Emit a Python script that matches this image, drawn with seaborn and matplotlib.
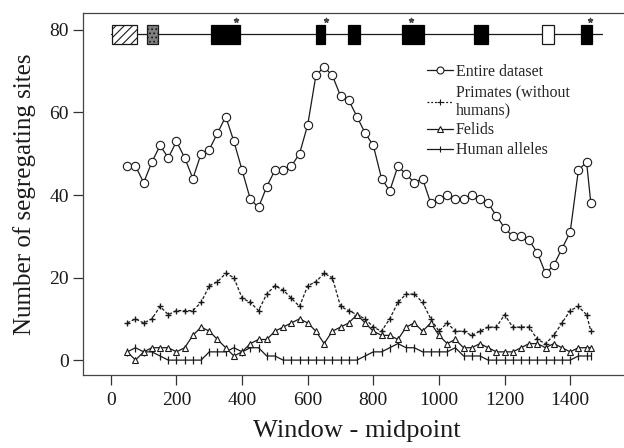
import matplotlib
matplotlib.use("Agg")
import matplotlib.pyplot as plt
import matplotlib.patches as mpatches
from matplotlib.lines import Line2D
import numpy as np
import pandas as pd
import seaborn as sns

# ---------------- data ----------------
window_mid = [50, 75, 100, 125, 150, 175, 200, 225, 250, 275, 300, 325, 350, 375,
              400, 425, 450, 475, 500, 525, 550, 575, 600, 625, 650, 675, 700, 725,
              750, 775, 800, 825, 850, 875, 900, 925, 950, 975, 1000, 1025, 1050,
              1075, 1100, 1125, 1150, 1175, 1200, 1225, 1250, 1275, 1300, 1325,
              1350, 1375, 1400, 1425, 1450, 1463]

entire = [47, 47, 43, 48, 52, 49, 53, 49, 44, 50, 51, 55, 59, 53, 46, 39, 37, 42,
          46, 46, 47, 50, 57, 69, 71, 69, 64, 63, 59, 55, 52, 44, 41, 47, 45, 43,
          44, 38, 39, 40, 39, 39, 40, 39, 38, 35, 32, 30, 30, 29, 26, 21, 23, 27,
          31, 46, 48, 38]

primates = [9, 10, 9, 10, 13, 11, 12, 12, 12, 14, 18, 19, 21, 20, 15, 14, 12, 16,
            18, 17, 15, 13, 18, 19, 21, 20, 13, 12, 11, 10, 8, 7, 10, 14, 16, 16,
            14, 10, 7, 9, 7, 7, 6, 7, 8, 8, 11, 8, 8, 8, 5, 4, 6, 9, 12, 13, 11, 7]

felids = [2, 0, 2, 3, 3, 3, 2, 3, 6, 8, 7, 5, 3, 1, 2, 4, 5, 5, 7, 8, 9, 10, 9, 7,
          4, 7, 8, 9, 11, 9, 7, 6, 6, 5, 8, 9, 7, 9, 6, 4, 5, 3, 3, 4, 3, 2, 2, 2,
          3, 4, 4, 3, 4, 3, 2, 3, 3, 3]

human = [2, 3, 2, 2, 1, 0, 0, 0, 0, 0, 2, 2, 2, 3, 2, 3, 3, 1, 1, 0, 0, 0, 0, 0,
         0, 0, 0, 0, 0, 1, 2, 2, 3, 4, 3, 3, 2, 2, 2, 2, 3, 1, 1, 1, 0, 0, 0, 0,
         0, 0, 0, 0, 0, 0, 0, 1, 1, 1]

series_labels = ["Entire dataset", "Primates (without\nhumans)", "Felids", "Human alleles"]

# gene structure diagram (start, end, kind)
exon_start = [2, 110, 306, 626, 723, 888, 1106, 1313, 1434]
exon_end = [80, 144, 395, 654, 760, 953, 1150, 1351, 1468]
exon_kind = ["hatched", "stipple", "black", "black", "black", "black", "black", "white", "black"]
gene_line = [0, 1498]
star_x = [380, 657, 916, 1461]

x_ticks = [0, 200, 400, 600, 800, 1000, 1200, 1400]
y_ticks = [0, 20, 40, 60, 80]

# ---------------- plot ----------------
sns.set_theme(style="ticks")
plt.rcParams["font.family"] = ["Liberation Serif", "DejaVu Serif"]
plt.rcParams["hatch.linewidth"] = 0.8

fig = plt.figure(figsize=(6.24, 4.48), dpi=100)
ax = fig.add_axes([0.133, 0.163, 0.878, 0.808])

ink = "#1a1a1a"
df = pd.DataFrame({"x": window_mid, "entire": entire, "primates": primates,
                   "felids": felids, "human": human})

sns.lineplot(data=df, x="x", y="primates", ax=ax, color=ink, lw=0.9,
             linestyle=(0, (2.5, 1.5)), marker="+", markersize=4.5,
             markeredgecolor=ink, markeredgewidth=1.0, errorbar=None, sort=False)
sns.lineplot(data=df, x="x", y="human", ax=ax, color=ink, lw=0.9,
             marker="|", markersize=6, markeredgecolor=ink,
             markeredgewidth=0.9, errorbar=None, sort=False)
sns.lineplot(data=df, x="x", y="felids", ax=ax, color=ink, lw=0.9,
             marker="^", markersize=5, markerfacecolor="white",
             markeredgecolor=ink, markeredgewidth=0.8, errorbar=None, sort=False)
sns.lineplot(data=df, x="x", y="entire", ax=ax, color=ink, lw=0.9,
             marker="o", markersize=6, markerfacecolor="white",
             markeredgecolor=ink, markeredgewidth=0.8, errorbar=None, sort=False)

# gene diagram
line_y = 78.9
box_lo, box_hi = 76.6, 81.2
ax.plot(gene_line, [line_y, line_y], color=ink, lw=0.9, zorder=3)
for s, e, k in zip(exon_start, exon_end, exon_kind):
    if k == "hatched":
        p = mpatches.Rectangle((s, box_lo), e - s, box_hi - box_lo, facecolor="white",
                               edgecolor=ink, hatch="////", lw=0.9, zorder=4)
    elif k == "stipple":
        p = mpatches.Rectangle((s, box_lo), e - s, box_hi - box_lo, facecolor="#808080",
                               edgecolor=ink, hatch="....", lw=0.9, zorder=4)
    elif k == "white":
        p = mpatches.Rectangle((s, box_lo), e - s, box_hi - box_lo, facecolor="white",
                               edgecolor=ink, lw=0.9, zorder=4)
    else:
        p = mpatches.Rectangle((s, box_lo), e - s, box_hi - box_lo, facecolor="black",
                               edgecolor="black", lw=0.9, zorder=4)
    ax.add_patch(p)
ax.scatter(star_x, [82.4] * len(star_x), marker="*", s=10, color="#444", zorder=5)

ax.set_xlim(-85, 1585)
ax.set_ylim(-3.6, 84.1)
ax.set_xticks(x_ticks)
ax.set_yticks(y_ticks)
ax.tick_params(axis="both", labelsize=14, length=7, width=0.9, color="#333",
               labelcolor=ink, direction="out")
ax.tick_params(axis="x", pad=5)
ax.tick_params(axis="y", pad=3)
ax.set_xlabel("Window - midpoint", fontsize=19, color=ink, labelpad=8)
ax.set_ylabel("Number of segregating sites", fontsize=18, color=ink, labelpad=10)
for sp in ax.spines.values():
    sp.set_linewidth(0.9)
    sp.set_color("#444")
ax.grid(False)

handles = [
    Line2D([], [], color=ink, lw=0.9, marker="o", markersize=5, markerfacecolor="white",
           markeredgecolor=ink, markeredgewidth=0.8),
    Line2D([], [], color=ink, lw=0.9, linestyle=(0, (1.5, 1.5)), marker="+", markersize=4,
           markeredgewidth=0.8),
    Line2D([], [], color=ink, lw=0.9, marker="^", markersize=4, markerfacecolor="white",
           markeredgecolor=ink, markeredgewidth=0.8),
    Line2D([], [], color=ink, lw=0.9, marker="|", markersize=5, markeredgewidth=0.8),
]
ax.legend(handles, series_labels, loc="upper left", bbox_to_anchor=(0.672, 0.875),
          bbox_transform=fig.transFigure, frameon=False, fontsize=11.5,
          handlelength=1.6, handletextpad=0.2, labelspacing=0.25, borderpad=0)

fig.savefig("out.png", dpi=100)
